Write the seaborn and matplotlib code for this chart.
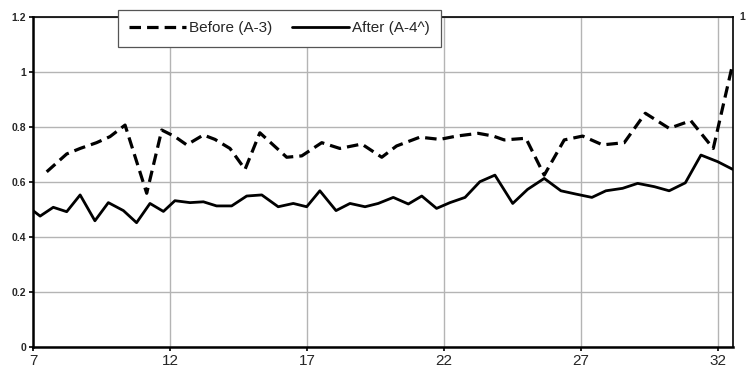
import matplotlib
matplotlib.use("Agg")
import matplotlib.pyplot as plt
import numpy as np
import pandas as pd
import seaborn as sns

# Series values
before_x = [7.50, 8.23, 8.72, 9.32, 9.81, 10.36, 11.15, 11.70, 12.18, 12.61,
            13.22, 13.64, 14.19, 14.74, 15.28, 16.26, 16.81, 17.54, 18.20, 19.00,
            19.73, 20.27, 21.12, 21.85, 22.46, 23.25, 23.80, 24.20, 24.99, 25.66,
            26.39, 27.06, 27.79, 28.58, 29.35, 30.22, 31.01, 31.83, 32.54]
before_y = [0.637, 0.702, 0.722, 0.743, 0.765, 0.807, 0.559, 0.789, 0.765, 0.735,
            0.771, 0.755, 0.722, 0.646, 0.779, 0.690, 0.695, 0.743, 0.722, 0.738,
            0.690, 0.731, 0.763, 0.755, 0.767, 0.777, 0.767, 0.753, 0.759, 0.625,
            0.753, 0.767, 0.735, 0.743, 0.850, 0.795, 0.823, 0.722, 1.030]

after_x = [7.00, 7.26, 7.74, 8.23, 8.72, 9.26, 9.75, 10.30, 10.78, 11.27,
           11.76, 12.18, 12.73, 13.22, 13.70, 14.25, 14.80, 15.35, 15.95, 16.50,
           16.99, 17.47, 18.06, 18.57, 19.12, 19.60, 20.15, 20.70, 21.19, 21.73,
           22.22, 22.77, 23.31, 23.86, 24.51, 25.05, 25.66, 26.27, 26.82, 27.40,
           27.91, 28.52, 29.07, 29.68, 30.22, 30.81, 31.38, 31.99, 32.54]
after_y = [0.496, 0.476, 0.508, 0.492, 0.553, 0.459, 0.525, 0.496, 0.452, 0.522,
           0.493, 0.532, 0.525, 0.528, 0.513, 0.513, 0.549, 0.553, 0.510, 0.522,
           0.510, 0.568, 0.496, 0.522, 0.510, 0.522, 0.544, 0.520, 0.549, 0.504,
           0.525, 0.544, 0.601, 0.625, 0.522, 0.573, 0.613, 0.568, 0.556, 0.544,
           0.568, 0.577, 0.595, 0.583, 0.568, 0.597, 0.698, 0.674, 0.646]

series_names = ["Before (A-3)", "After (A-4^)"]
x_ticks = [7, 12, 17, 22, 27, 32]
y_ticks = [0, 0.2, 0.4, 0.6, 0.8, 1.0, 1.2]
y_tick_labels = ["0", "0.2", "0.4", "0.6", "0.8", "1", "1.2"]

df_before = pd.DataFrame({"x": before_x, "y": before_y})
df_after = pd.DataFrame({"x": after_x, "y": after_y})

sns.set_style("white")
plt.rcParams["font.family"] = ["Liberation Sans", "DejaVu Sans"]

fig = plt.figure(figsize=(7.46, 3.74), dpi=100)
ax = fig.add_axes([33 / 746, 27 / 374, 700 / 746, 330 / 374])

sns.lineplot(data=df_before, x="x", y="y", ax=ax, color="black", lw=2.3,
             sort=False, estimator=None, label=series_names[0],
             dashes=False, zorder=3)
sns.lineplot(data=df_after, x="x", y="y", ax=ax, color="black", lw=2.0,
             sort=False, estimator=None, label=series_names[1], zorder=3)
ax.lines[0].set_dashes((3.6, 1.9))

ax.set_xlim(7, 32.55)
ax.set_ylim(0, 1.2)
ax.set_xticks(x_ticks)
ax.set_xticklabels([str(t) for t in x_ticks], fontsize=11)
ax.set_yticks(y_ticks)
ax.set_yticklabels(y_tick_labels, fontsize=7.5, fontweight="bold")
ax.set_xlabel("")
ax.set_ylabel("")

ax.grid(True, color="#b4b4b4", lw=1.0)
ax.set_axisbelow(True)

for side in ["left", "bottom"]:
    ax.spines[side].set_color("black")
    ax.spines[side].set_linewidth(1.8)
for side in ["top", "right"]:
    ax.spines[side].set_color("black")
    ax.spines[side].set_linewidth(1.2)

ax.tick_params(axis="both", which="both", direction="out", length=3,
               width=1.2, color="black", pad=2, bottom=True, left=True)

leg = ax.legend(loc="upper center", bbox_to_anchor=(279.5 / 746, 1 - 10 / 374),
                bbox_transform=fig.transFigure, ncol=2, fontsize=11,
                handlelength=3.7, handletextpad=0.2, columnspacing=1.3,
                frameon=True, fancybox=False, framealpha=1.0,
                borderpad=0.75, borderaxespad=0.0)
leg.get_frame().set_edgecolor("#555555")
leg.get_frame().set_linewidth(0.9)

# Label of the right-hand scale at the figure edge
fig.text(745.5 / 746, 1 - 17 / 374, "1", fontsize=7.5, fontweight="bold",
         ha="right", va="center")

fig.savefig("out.png", dpi=100)
